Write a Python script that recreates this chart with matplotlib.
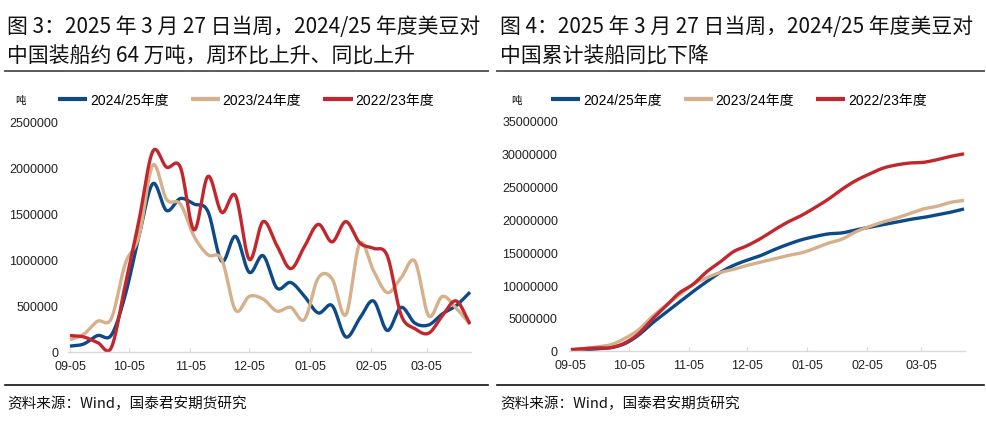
import numpy as np
import matplotlib
matplotlib.use("Agg")
import matplotlib.pyplot as plt
import matplotlib.dates as mdates
from matplotlib.lines import Line2D

plt.rcParams['font.family'] = ['Liberation Sans', 'Noto Sans CJK SC', 'DejaVu Sans']

# ---------------- data ----------------
dates = ['2024-09-05', '2024-09-12', '2024-09-19', '2024-09-26', '2024-10-03', '2024-10-10',
         '2024-10-17', '2024-10-24', '2024-10-31', '2024-11-07', '2024-11-14', '2024-11-21',
         '2024-11-28', '2024-12-05', '2024-12-12', '2024-12-19', '2024-12-26', '2025-01-02',
         '2025-01-09', '2025-01-16', '2025-01-23', '2025-01-30', '2025-02-06', '2025-02-13',
         '2025-02-20', '2025-02-27', '2025-03-06', '2025-03-13', '2025-03-20', '2025-03-27']

series_names = ['2024/25年度', '2023/24年度', '2022/23年度']

weekly_2425 = [60000, 84000, 175000, 180000, 610000, 1250000, 1820000, 1530000, 1660000, 1600000,
               1520000, 980000, 1250000, 860000, 1040000, 690000, 750000, 600000, 420000, 500000,
               160000, 360000, 550000, 230000, 480000, 310000, 290000, 410000, 500000, 645000]
weekly_2324 = [130000, 190000, 330000, 360000, 950000, 1250000, 2020000, 1650000, 1600000, 1250000,
               1050000, 1000000, 450000, 600000, 570000, 440000, 480000, 350000, 800000, 790000,
               400000, 1170000, 880000, 640000, 800000, 980000, 390000, 600000, 470000, 300000]
weekly_2223 = [175000, 160000, 100000, 45000, 720000, 1420000, 2170000, 2000000, 2000000, 1320000,
               1900000, 1510000, 1690000, 1000000, 1410000, 1150000, 900000, 1140000, 1380000, 1190000,
               1410000, 1180000, 1120000, 1040000, 400000, 250000, 200000, 390000, 550000, 300000]

cum_2425 = [60000, 150000, 300000, 500000, 1100000, 2400000, 4200000, 5800000, 7400000, 9000000,
            10500000, 11900000, 13000000, 13800000, 14500000, 15400000, 16200000, 16900000, 17400000, 17800000,
            17950000, 18400000, 18800000, 19200000, 19600000, 20000000, 20300000, 20700000, 21100000, 21600000]
cum_2324 = [130000, 300000, 600000, 950000, 1900000, 3200000, 5200000, 6900000, 8500000, 10100000,
            11100000, 11900000, 12400000, 13000000, 13500000, 14000000, 14500000, 14900000, 15600000, 16400000,
            17000000, 18100000, 18900000, 19600000, 20200000, 20900000, 21600000, 22000000, 22600000, 22900000]
cum_2223 = [170000, 330000, 430000, 480000, 1200000, 2600000, 4800000, 6800000, 8800000, 10100000,
            12000000, 13500000, 15100000, 16000000, 17100000, 18400000, 19600000, 20600000, 21800000, 23100000,
            24600000, 25900000, 26900000, 27800000, 28300000, 28600000, 28700000, 29100000, 29600000, 30000000]

xtick_dates = ['2024-09-05', '2024-10-05', '2024-11-05', '2024-12-05', '2025-01-05', '2025-02-05', '2025-03-05']
left_yticks = [0, 500000, 1000000, 1500000, 2000000, 2500000]
right_yticks = [0, 5000000, 10000000, 15000000, 20000000, 25000000, 30000000, 35000000]

colors = ['#0d4a87', '#d5b08b', '#c1272d']

title_left = ["图 3：2025 年 3 月 27 日当周，2024/25 年度美豆对",
              "中国装船约 64 万吨，周环比上升、同比上升"]
title_right = ["图 4：2025 年 3 月 27 日当周，2024/25 年度美豆对",
               "中国累计装船同比下降"]
source = "资料来源：Wind，国泰君安期货研究"

# ---------------- helpers ----------------
def smooth(x, y, n=24):
    P = np.column_stack([np.asarray(x, float), np.asarray(y, float)])
    P = np.vstack([2 * P[0] - P[1], P, 2 * P[-1] - P[-2]])
    t = np.linspace(0, 1, n, endpoint=False)[:, None]
    out = []
    for i in range(1, len(P) - 2):
        p0, p1, p2, p3 = P[i - 1], P[i], P[i + 1], P[i + 2]
        pts = 0.5 * ((2 * p1) + (-p0 + p2) * t + (2 * p0 - 5 * p1 + 4 * p2 - p3) * t ** 2
                     + (-p0 + 3 * p1 - 3 * p2 + p3) * t ** 3)
        out.append(pts)
    out.append(P[-2][None, :])
    A = np.vstack(out)
    return A[:, 0], A[:, 1]

xd = mdates.date2num(np.array(dates, dtype='datetime64[D]'))
xt = mdates.date2num(np.array(xtick_dates, dtype='datetime64[D]'))

W, H = 987, 427
fig = plt.figure(figsize=(W / 100, H / 100), dpi=100)

cjk = ['Noto Sans CJK SC', 'DejaVu Sans']

def px(x, y):
    return x / W, 1 - y / H

def panel(ax_rect, data, yticks, titles, x0, legend_pos, unit_pos, sep_x, ypad):
    ax = fig.add_axes(ax_rect)
    handles = []
    for vals, c, name in zip(data, colors, series_names):
        sx, sy = smooth(xd, vals)
        ln, = ax.plot(sx, sy, color=c, lw=2.4, solid_capstyle='butt', label=name)
        handles.append(ln)
    ax.set_xlim(xd[0] - 1, xd[-1] + 0.5)
    ax.set_ylim(yticks[0], yticks[-1])
    ax.set_yticks(yticks)
    ax.set_yticklabels([str(v) for v in yticks])
    ax.set_xticks(xt)
    ax.set_xticklabels([d[5:] for d in xtick_dates])
    for s in ['top', 'right', 'left']:
        ax.spines[s].set_visible(False)
    ax.spines['bottom'].set_color('#d9d9d9')
    ax.spines['bottom'].set_linewidth(1.0)
    ax.tick_params(axis='y', length=0, pad=ypad, labelsize=9, labelcolor='#222222')
    ax.tick_params(axis='x', direction='in', length=3, color='#d9d9d9', pad=6,
                   labelsize=9, labelcolor='#222222')
    ax.patch.set_alpha(0)
    leg = ax.legend(handles=handles, loc='center left', bbox_to_anchor=px(*legend_pos),
                    bbox_transform=fig.transFigure, ncol=3, frameon=False, fontsize=10,
                    handlelength=2.1, handletextpad=0.2, columnspacing=1.6, borderpad=0,
                    borderaxespad=0)
    for h in leg.legend_handles:
        h.set_linewidth(3)
    fig.text(*px(*unit_pos), '吨', fontsize=7.5, family=cjk, va='center', ha='left')
    fig.text(*px(x0, 27), titles[0], fontsize=15, family=cjk, va='center', ha='left', color='#111111')
    fig.text(*px(x0, 57), titles[1], fontsize=15, family=cjk, va='center', ha='left', color='#111111')
    fig.add_artist(Line2D([sep_x[0] / W, sep_x[1] / W], [1 - 72 / H] * 2, color='#5a5a5a', lw=1.4))
    fig.add_artist(Line2D([sep_x[0] / W, sep_x[1] / W], [1 - 386 / H] * 2, color='#111111', lw=1.2))
    fig.text(*px(x0, 404), source, fontsize=10.5, family=cjk, va='center', ha='left', color='#111111')
    return ax

panel([68 / W, 1 - 352.7 / H, (471 - 68) / W, 230.7 / H],
      [weekly_2425, weekly_2324, weekly_2223], left_yticks, title_left, 7,
      (58, 101), (15, 101), (5, 488), 7)

panel([569 / W, 1 - 351.7 / H, (965 - 569) / W, 229.7 / H],
      [cum_2425, cum_2324, cum_2223], right_yticks, title_right, 500,
      (551, 101), (511, 101), (497, 984), 8)

fig.savefig('out.png', dpi=100)
